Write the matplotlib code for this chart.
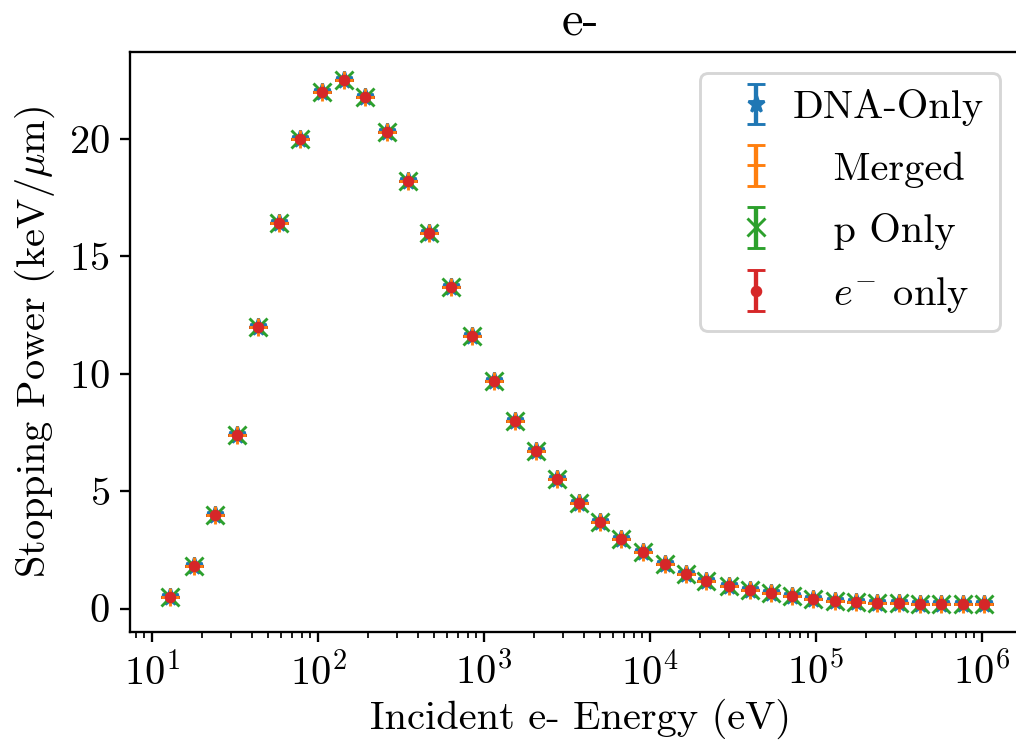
import matplotlib
matplotlib.use("Agg")
import matplotlib.pyplot as plt

# energies (eV) and stopping power (keV/um)
energy = [12.8, 18, 24, 32.7, 43.7, 58.5, 78.3, 105, 142.5, 191,
          259, 347, 465, 632, 846, 1148, 1538, 2061, 2760, 3750,
          5020, 6730, 9020, 12250, 16400, 21900, 29800, 39900, 53500, 71600,
          96000, 130300, 174600, 233900, 317800, 425000, 569000, 773000, 1030000]
stopping = [0.5, 1.8, 4.0, 7.4, 12.0, 16.4, 20.0, 22.0, 22.5, 21.8,
            20.3, 18.2, 16.0, 13.7, 11.6, 9.7, 8.0, 6.7, 5.5, 4.5,
            3.7, 2.96, 2.4, 1.88, 1.49, 1.19, 0.96, 0.77, 0.65, 0.53,
            0.41, 0.34, 0.29, 0.25, 0.22, 0.21, 0.2, 0.2, 0.2]
err = 0.0

labels = ["DNA-Only", "   Merged", "   p Only", r"   $e^{-}$ only"]
markers = ["*", "+", "x", "."]
colors = ["tab:blue", "tab:orange", "tab:green", "tab:red"]

plt.rcParams['font.family'] = ['cmr10']
plt.rcParams['mathtext.fontset'] = 'cm'
plt.rcParams['axes.formatter.use_mathtext'] = True
plt.rcParams['font.size'] = 14

dpi = 208
W, H = 1016, 740
fig = plt.figure(figsize=(W / dpi, H / dpi), dpi=dpi)
# frame runs past the right edge, as in the cropped original
ax = fig.add_axes([130 / W, 1 - 632 / H, 900 / W, (632 - 52) / H])

for lab, m, c in zip(labels, markers, colors):
    ax.errorbar(energy, stopping, yerr=err, fmt=m, color=c, capsize=3, label=lab)

ax.set_xscale('log')
ax.set_xlim(7.36, 1.95e6)
ax.set_ylim(-1.0, 23.7)
ax.set_yticks([0, 5, 10, 15, 20])
ax.set_xlabel("Incident e- Energy (eV)", labelpad=2)
ax.set_ylabel(r"Stopping Power (keV/$\mu$m)")
ax.set_title("e-")
ax.legend(loc='upper right', bbox_to_anchor=(1000 / W, 1 - 73 / H),
          bbox_transform=fig.transFigure, borderaxespad=0,
          handletextpad=-0.1, labelspacing=0.62)

fig.savefig("out.png", dpi=dpi)
